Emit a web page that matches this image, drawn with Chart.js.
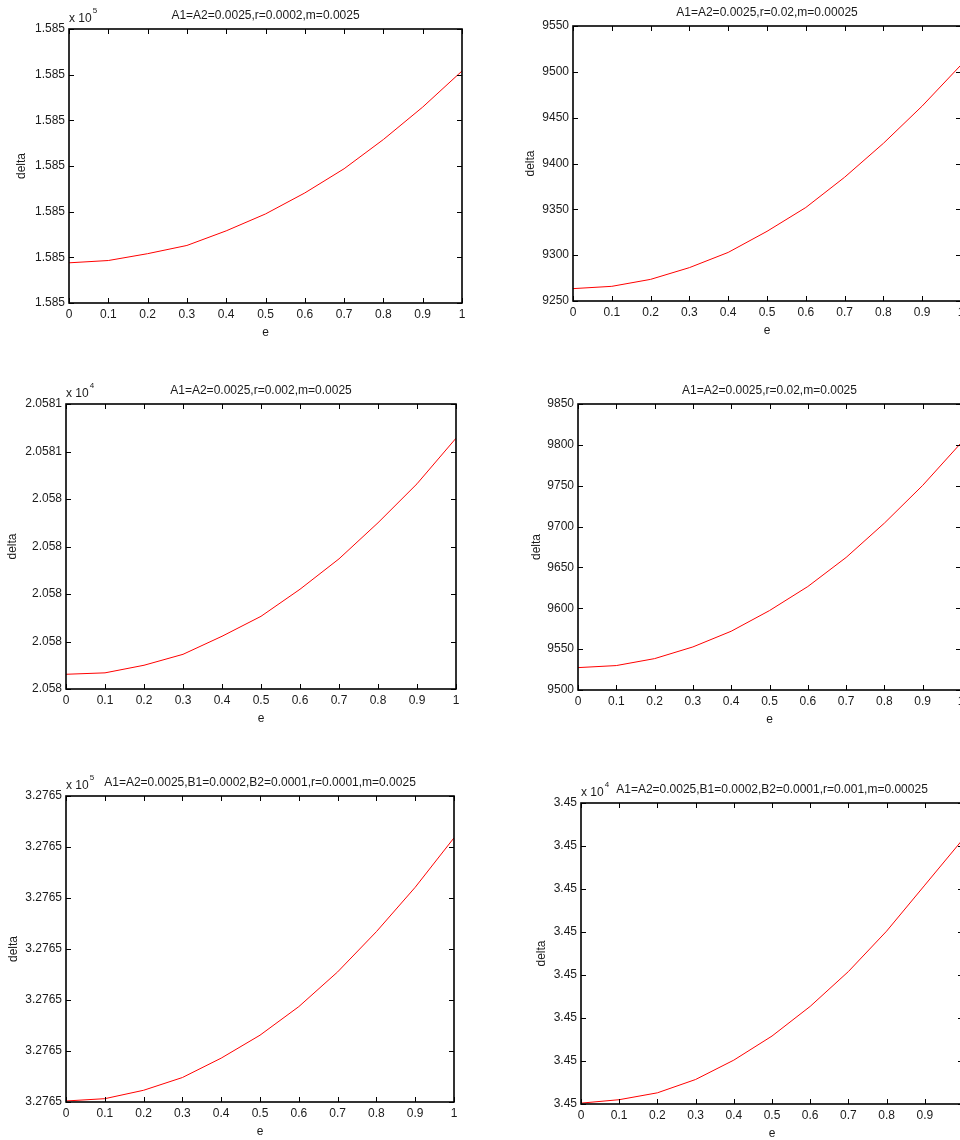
<!DOCTYPE html>
<html>
<head>
<meta charset="utf-8">
<title>delta vs e</title>
<script src="https://cdn.jsdelivr.net/npm/chart.js@4/dist/chart.umd.min.js"></script>
<style>
  html, body { margin: 0; padding: 0; background: #fff; overflow: hidden; }
  body { width: 960px; height: 1140px; position: relative; }
  .panel { position: absolute; }
</style>
</head>
<body>
<div class="panel" id="p1"><canvas id="c1"></canvas></div>
<div class="panel" id="p2"><canvas id="c2"></canvas></div>
<div class="panel" id="p3"><canvas id="c3"></canvas></div>
<div class="panel" id="p4"><canvas id="c4"></canvas></div>
<div class="panel" id="p5"><canvas id="c5"></canvas></div>
<div class="panel" id="p6"><canvas id="c6"></canvas></div>
<script>
// x axis shared by all six plots
const eValues = [0, 0.1, 0.2, 0.3, 0.4, 0.5, 0.6, 0.7, 0.8, 0.9, 1];
const xTicks = [0, 0.1, 0.2, 0.3, 0.4, 0.5, 0.6, 0.7, 0.8, 0.9, 1];
const xTickLabels = ['0', '0.1', '0.2', '0.3', '0.4', '0.5', '0.6', '0.7', '0.8', '0.9', '1'];

const titles = [
    'A1=A2=0.0025,r=0.0002,m=0.0025',
    'A1=A2=0.0025,r=0.02,m=0.00025',
    'A1=A2=0.0025,r=0.002,m=0.0025',
    'A1=A2=0.0025,r=0.02,m=0.0025',
    'A1=A2=0.0025,B1=0.0002,B2=0.0001,r=0.0001,m=0.0025',
    'A1=A2=0.0025,B1=0.0002,B2=0.0001,r=0.001,m=0.00025'
];
const exponents = ['5', null, '4', null, '5', '4'];

// plots 1,3,5,6: tick labels all round to the same number, so values are
// given in tick steps above the lowest tick
const delta1 = [0.88, 0.93, 1.08, 1.26, 1.58, 1.95, 2.41, 2.94, 3.58, 4.29, 5.08];
const yTicks1 = [0, 1, 2, 3, 4, 5, 6];
const yLabels1 = ['1.585', '1.585', '1.585', '1.585', '1.585', '1.585', '1.585'];

const delta2 = [9263.5, 9266, 9273.6, 9286.4, 9303, 9326, 9352, 9385, 9422, 9462.7, 9507.5];
const yTicks2 = [9250, 9300, 9350, 9400, 9450, 9500, 9550];
const yLabels2 = ['9250', '9300', '9350', '9400', '9450', '9500', '9550'];

const delta3 = [0.31, 0.34, 0.50, 0.73, 1.11, 1.53, 2.10, 2.74, 3.50, 4.32, 5.28];
const yTicks3 = [0, 1, 2, 3, 4, 5, 6];
const yLabels3 = ['2.058', '2.058', '2.058', '2.058', '2.058', '2.0581', '2.0581'];

const delta4 = [9527.4, 9529.9, 9538.4, 9552.7, 9571.9, 9597.2, 9626.6, 9662.2, 9704.2, 9750.4, 9802.3];
const yTicks4 = [9500, 9550, 9600, 9650, 9700, 9750, 9800, 9850];
const yLabels4 = ['9500', '9550', '9600', '9650', '9700', '9750', '9800', '9850'];

const delta5 = [0.02, 0.065, 0.23, 0.48, 0.86, 1.31, 1.87, 2.55, 3.34, 4.21, 5.18];
const yTicks5 = [0, 1, 2, 3, 4, 5, 6];
const yLabels5 = ['3.2765', '3.2765', '3.2765', '3.2765', '3.2765', '3.2765', '3.2765'];

const delta6 = [0.02, 0.10, 0.26, 0.57, 1.02, 1.58, 2.27, 3.08, 4.02, 5.09, 6.16];
const yTicks6 = [0, 1, 2, 3, 4, 5, 6, 7];
const yLabels6 = ['3.45', '3.45', '3.45', '3.45', '3.45', '3.45', '3.45', '3.45'];

const FONT = '"Liberation Sans", Arial, Helvetica, sans-serif';
const TEXT = '#1a1a1a';
const YW = 62;   // y axis box width
const XH = 37;   // x axis box height
const TOP = 26;  // title block height
const RP = 12;   // right padding

// plot-area placement on the page: [left, top, width, height, y-title offset]
const layouts = [
    [69, 29, 393, 274, 47],
    [573, 26, 388, 275, 42],
    [66, 404, 390, 285, 53],
    [578, 404, 383, 286, 41],
    [66, 796, 388, 306, 52],
    [581, 803, 382, 301, 39]
];

// MATLAB style box with inward ticks, plus the "x 10^n" multiplier
const matlabFrame = {
    id: 'matlabFrame',
    afterDraw(chart, args, opts) {
        const { ctx, chartArea: a, scales: { x, y } } = chart;
        ctx.save();
        ctx.strokeStyle = '#000';
        ctx.lineWidth = 1;
        ctx.beginPath();
        x.ticks.forEach(t => {
            const px = Math.round(x.getPixelForValue(t.value)) + 0.5;
            ctx.moveTo(px, a.bottom); ctx.lineTo(px, a.bottom - 5);
            ctx.moveTo(px, a.top); ctx.lineTo(px, a.top + 5);
        });
        y.ticks.forEach(t => {
            const py = Math.round(y.getPixelForValue(t.value)) + 0.5;
            ctx.moveTo(a.left, py); ctx.lineTo(a.left + 5, py);
            ctx.moveTo(a.right, py); ctx.lineTo(a.right - 5, py);
        });
        ctx.stroke();
        ctx.lineWidth = 1.6;
        ctx.strokeRect(a.left, a.top, a.right - a.left, a.bottom - a.top);

        if (opts.exp) {
            ctx.fillStyle = TEXT;
            ctx.textBaseline = 'middle';
            ctx.font = '12px ' + FONT;
            ctx.fillText('x 10', a.left, a.top - 10);
            const w = ctx.measureText('x 10').width;
            ctx.font = '8px ' + FONT;
            ctx.fillText(opts.exp, a.left + w + 1, a.top - 18);
        }
        ctx.restore();
    }
};

function makePlot(n, values, yTicks, yLabels) {
    const [left, top, w, h, yTitleOff] = layouts[n - 1];
    const box = document.getElementById('p' + n);
    const cw = YW + w + RP;
    const ch = TOP + h + XH;
    box.style.left = (left - YW) + 'px';
    box.style.top = (top - TOP) + 'px';
    const canvas = document.getElementById('c' + n);
    canvas.width = cw;
    canvas.height = ch;
    canvas.style.width = cw + 'px';
    canvas.style.height = ch + 'px';

    return new Chart(canvas.getContext('2d'), {
        type: 'line',
        data: {
            datasets: [{
                data: eValues.map((v, i) => ({ x: v, y: values[i] })),
                borderColor: '#ff0000',
                borderWidth: 1,
                pointRadius: 0,
                tension: 0,
                fill: false
            }]
        },
        options: {
            responsive: false,
            animation: false,
            events: [],
            layout: { padding: { left: 0, top: 0, right: RP, bottom: 0 } },
            plugins: {
                legend: { display: false },
                tooltip: { enabled: false },
                title: {
                    display: true,
                    text: titles[n - 1],
                    fullSize: false,
                    color: TEXT,
                    font: { family: FONT, size: 12, weight: 'normal', lineHeight: 1.25 },
                    padding: { top: 5, bottom: 6 }
                },
                matlabFrame: { exp: exponents[n - 1] }
            },
            scales: {
                x: {
                    type: 'linear',
                    min: 0,
                    max: 1,
                    afterBuildTicks: s => { s.ticks = xTicks.map(v => ({ value: v })); },
                    afterFit: s => { s.height = XH; },
                    grid: { display: false, drawTicks: false },
                    border: { display: false },
                    ticks: {
                        autoSkip: false,
                        maxRotation: 0,
                        padding: 4,
                        color: TEXT,
                        font: { family: FONT, size: 12 },
                        callback: (v, i) => xTickLabels[i]
                    },
                    title: {
                        display: true,
                        text: 'e',
                        color: TEXT,
                        font: { family: FONT, size: 12 },
                        padding: { top: 0, bottom: 0 }
                    }
                },
                y: {
                    type: 'linear',
                    min: yTicks[0],
                    max: yTicks[yTicks.length - 1],
                    afterBuildTicks: s => { s.ticks = yTicks.map(v => ({ value: v })); },
                    afterFit: s => { s.width = YW; },
                    grid: { display: false, drawTicks: false },
                    border: { display: false },
                    ticks: {
                        autoSkip: false,
                        padding: 4,
                        color: TEXT,
                        font: { family: FONT, size: 12 },
                        callback: (v, i) => yLabels[i]
                    },
                    title: {
                        display: true,
                        text: 'delta',
                        color: TEXT,
                        font: { family: FONT, size: 12 },
                        padding: { top: YW - yTitleOff - 7.2, bottom: 0 }
                    }
                }
            }
        },
        plugins: [matlabFrame]
    });
}

makePlot(1, delta1, yTicks1, yLabels1);
makePlot(2, delta2, yTicks2, yLabels2);
makePlot(3, delta3, yTicks3, yLabels3);
makePlot(4, delta4, yTicks4, yLabels4);
makePlot(5, delta5, yTicks5, yLabels5);
makePlot(6, delta6, yTicks6, yLabels6);
</script>
</body>
</html>
